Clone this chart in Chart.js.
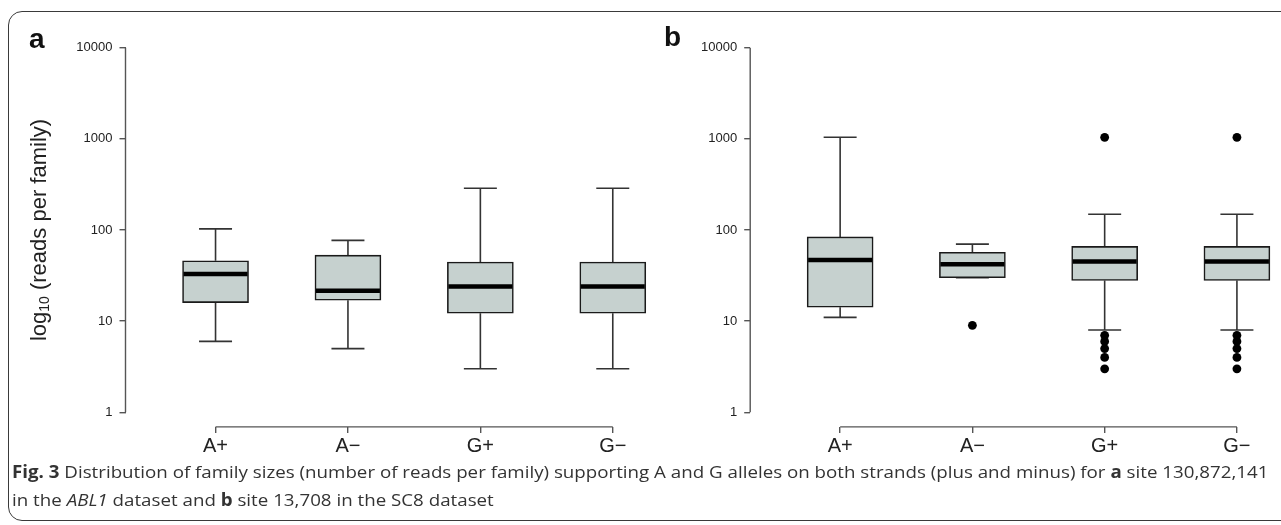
<!DOCTYPE html>
<html>
<head>
<meta charset="utf-8">
<script src="https://cdn.jsdelivr.net/npm/chart.js@4.4.1/dist/chart.umd.min.js"></script>
<style>
  body { margin: 0; width: 1281px; height: 525px; overflow: hidden; background: #fff; position: relative; font-family: "Liberation Sans", Arial, sans-serif; }
  #frame { position: absolute; left: 8px; top: 11px; width: 1300px; height: 508px; border: 1.6px solid #3a3a3a; border-radius: 14px; }
  canvas { position: absolute; top: 0; }
  #chartA { left: 0; }
  #chartB { left: 640px; }
  .panel { position: absolute; font-weight: bold; font-size: 28px; line-height: 28px; color: #111; }
  #ytitle { position: absolute; left: 39px; top: 230px; transform: translate(-50%, -50%) rotate(-90deg); white-space: nowrap; font-size: 22px; color: #222; }
  #ytitle sub { font-size: 14px; vertical-align: -3px; }
  #caption { position: absolute; left: 12px; top: 458px; font-family: "Open Sans", sans-serif; font-size: 17px; color: #333; line-height: 28px; transform-origin: 0 0; white-space: nowrap; }
</style>
</head>
<body>
<div id="frame"></div>
<canvas id="chartA" width="700" height="460"></canvas>
<canvas id="chartB" width="641" height="460"></canvas>
<div class="panel" style="left:29px; top:25px;">a</div>
<div class="panel" style="left:664px; top:23px;">b</div>
<div id="ytitle">log<sub>10</sub> (reads per family)</div>
<div id="caption">
  <div id="capline1"><b>Fig. 3</b> Distribution of family sizes (number of reads per family) supporting A and G alleles on both strands (plus and minus) for <b>a</b> site 130,872,141</div>
  <div>in the <i>ABL1</i> dataset and <b>b</b> site 13,708 in the SC8 dataset</div>
</div>
<script>
const categories = ['A+', 'A\u2212', 'G+', 'G\u2212'];
const yTicks = [1, 10, 100, 1000, 10000];

// panel a: site 130,872,141 (ABL1)
const aLower = [6, 5, 3, 3];
const aQ1 = [16, 17, 12.2, 12.2];
const aMedian = [33, 21.5, 24, 24];
const aQ3 = [46, 53, 44.5, 44.5];
const aUpper = [103, 77, 287, 287];
const aOutliers = [[], [], [], []];

// panel b: site 13,708 (SC8)
const bLower = [11, 30, 8, 8];
const bQ1 = [14.2, 30, 28, 28];
const bMedian = [47, 42, 45, 45];
const bQ3 = [84, 57, 66, 66];
const bUpper = [1040, 70, 149, 149];
const bOutliers = [[], [9], [3, 4, 5, 6, 7, 1040], [3, 4, 5, 6, 7, 1040]];

function boxPlugin(lower, median, upper) {
  return {
    id: 'boxExtras',
    beforeDatasetsDraw(chart) {
      const ctx = chart.ctx, x = chart.scales.x, y = chart.scales.y;
      const box = chart.getDatasetMeta(0).data;
      ctx.save();
      ctx.strokeStyle = '#333';
      ctx.lineWidth = 1.6;
      box.forEach((bar, i) => {
        const cx = x.getPixelForValue(i + 1);
        const half = bar.width / 4;
        ctx.beginPath();
        ctx.moveTo(cx, y.getPixelForValue(upper[i]));
        ctx.lineTo(cx, Math.min(bar.y, bar.base));
        ctx.moveTo(cx - half, y.getPixelForValue(upper[i]));
        ctx.lineTo(cx + half, y.getPixelForValue(upper[i]));
        ctx.moveTo(cx, y.getPixelForValue(lower[i]));
        ctx.lineTo(cx, Math.max(bar.y, bar.base));
        ctx.moveTo(cx - half, y.getPixelForValue(lower[i]));
        ctx.lineTo(cx + half, y.getPixelForValue(lower[i]));
        ctx.stroke();
      });
      ctx.restore();
    },
    afterDatasetsDraw(chart) {
      const ctx = chart.ctx, y = chart.scales.y;
      const box = chart.getDatasetMeta(0).data;
      ctx.save();
      ctx.strokeStyle = '#000';
      ctx.lineWidth = 4.5;
      box.forEach((bar, i) => {
        const py = y.getPixelForValue(median[i]);
        ctx.beginPath();
        ctx.moveTo(bar.x - bar.width / 2 + 1, py);
        ctx.lineTo(bar.x + bar.width / 2 - 1, py);
        ctx.stroke();
      });
      ctx.restore();
    },
    afterDraw(chart) {
      const ctx = chart.ctx, x = chart.scales.x, y = chart.scales.y, area = chart.chartArea;
      ctx.save();
      ctx.strokeStyle = '#555';
      ctx.lineWidth = 1.4;
      ctx.beginPath();
      ctx.moveTo(area.left, y.getPixelForValue(yTicks[0]));
      ctx.lineTo(area.left, y.getPixelForValue(yTicks[yTicks.length - 1]));
      ctx.moveTo(x.getPixelForValue(1), area.bottom);
      ctx.lineTo(x.getPixelForValue(categories.length), area.bottom);
      ctx.stroke();
      ctx.restore();
    }
  };
}

function makeChart(id, q1, q3, lower, median, upper, outliers, yWidth, rightPad) {
  const boxes = categories.map((c, i) => ({ x: i + 1, y: [q1[i], q3[i]] }));
  const points = [];
  outliers.forEach((list, i) => list.forEach(v => points.push({ x: i + 1, y: v })));
  return new Chart(document.getElementById(id), {
    type: 'bar',
    data: {
      datasets: [{
        data: boxes,
        backgroundColor: '#c6d1cf',
        borderColor: '#1a1a1a',
        borderWidth: 1.6,
        borderSkipped: false,
        barThickness: 66,
        order: 2
      }, {
        type: 'scatter',
        data: points,
        pointRadius: 4.4,
        pointBackgroundColor: '#000',
        pointBorderWidth: 0,
        order: 1
      }]
    },
    options: {
      responsive: false,
      animation: false,
      devicePixelRatio: 1,
      layout: { padding: { left: 0, top: 33.1, right: rightPad, bottom: 0 } },
      plugins: { legend: { display: false }, tooltip: { enabled: false } },
      scales: {
        x: {
          type: 'linear',
          offset: false,
          min: 0.32,
          max: 4.3,
          afterBuildTicks: s => { s.ticks = categories.map((c, i) => ({ value: i + 1 })); },
          afterFit: s => { s.height = 33.1; },
          grid: { display: true, offset: false, drawOnChartArea: false, drawTicks: true, tickLength: 6, color: '#555', lineWidth: 1.4 },
          border: { display: false },
          ticks: {
            autoSkip: false, maxRotation: 0, padding: 2, color: '#222',
            font: { family: 'Liberation Sans', size: 20 },
            callback: v => categories[v - 1]
          }
        },
        y: {
          type: 'logarithmic',
          min: Math.pow(10, -0.16),
          max: Math.pow(10, 4.16),
          afterBuildTicks: s => { s.ticks = yTicks.map(v => ({ value: v })); },
          afterFit: s => { s.width = yWidth; },
          grid: { display: true, drawOnChartArea: false, drawTicks: true, tickLength: 6, color: '#555', lineWidth: 1.4 },
          border: { display: false },
          ticks: {
            padding: 7, color: '#222',
            font: { family: 'Liberation Sans', size: 13 },
            callback: v => String(v)
          }
        }
      }
    },
    plugins: [boxPlugin(lower, median, upper)]
  });
}

makeChart('chartA', aQ1, aQ3, aLower, aMedian, aUpper, aOutliers, 125.5, 47.5);
makeChart('chartB', bQ1, bQ3, bLower, bMedian, bUpper, bOutliers, 110.2, 3.5);

// fit caption to the frame width
const cap = document.getElementById('caption');
const w = document.getElementById('capline1').scrollWidth;
cap.style.transform = 'scaleX(' + (1256 / w) + ')';
</script>
</body>
</html>
